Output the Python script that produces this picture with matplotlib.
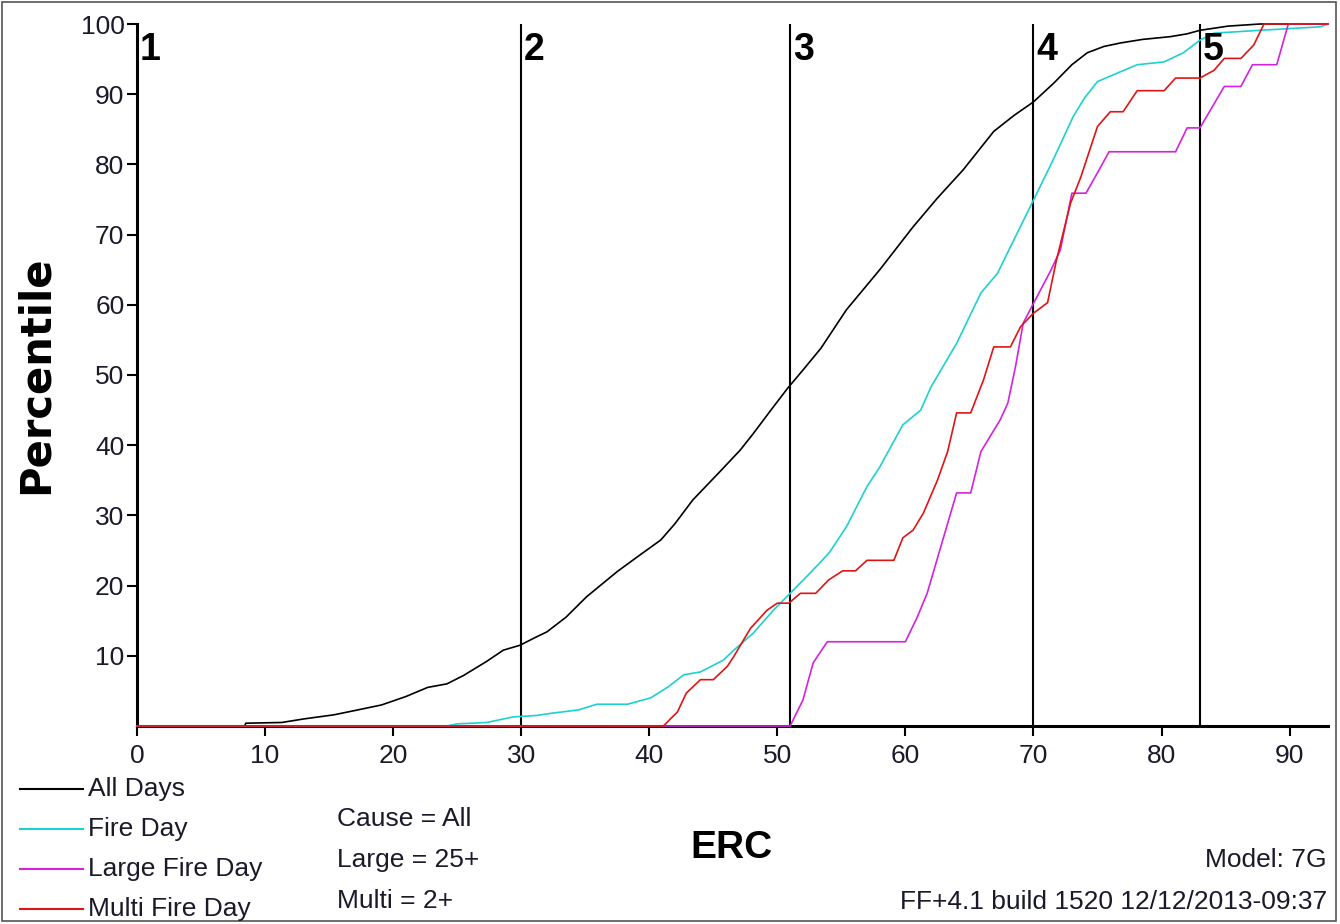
import matplotlib
matplotlib.use("Agg")
import matplotlib.pyplot as plt
from matplotlib.lines import Line2D
from matplotlib.patches import Rectangle

# ERC percentile curves
all_days_x = [0, 8.4, 8.5, 11.3, 13, 15.4, 17, 19.1, 21, 22.7, 24.2, 25.5, 27.3, 28.6, 29.9,
              31.2, 32.0, 33.5, 35.1, 37.5, 39, 40.9, 42, 43.4, 45.5, 47.1, 48.1, 49.5, 50.8,
              52, 53.4, 55.4, 58.0, 60.6, 62.5, 64.5, 66.9, 68.5, 70.0, 71.6, 73.0, 74.2,
              75.5, 76.8, 78.5, 80.7, 82, 83.0, 85.2, 87.7, 93]
all_days_y = [0, 0, 0.4, 0.5, 1.0, 1.6, 2.2, 3.0, 4.2, 5.5, 6.0, 7.2, 9.2, 10.8, 11.5,
              12.7, 13.4, 15.5, 18.4, 22.0, 24.0, 26.5, 28.8, 32.2, 36.2, 39.3, 41.6, 45.0, 48.1,
              50.7, 53.8, 59.3, 65.0, 71.1, 75.2, 79.2, 84.7, 87.0, 88.9, 91.6, 94.2, 95.9,
              96.8, 97.3, 97.8, 98.2, 98.6, 99.1, 99.7, 100, 100]

fire_x = [0, 24.2, 25, 27.3, 29.4, 31.2, 32.3, 34.5, 35.9, 38.3, 40.1, 41.5, 42.7, 44.0,
          45.8, 46.6, 48.1, 49.7, 51.0, 52.3, 53.4, 54.1, 55.4, 57.0, 58.0, 59.8, 61.2, 62.0,
          64, 65.9, 67.2, 68.0, 70.0, 71.5, 73.1, 74.0, 75.0, 76.8, 78.1, 80.2, 81.7, 83.0,
          84.1, 87.7, 92.4, 93]
fire_y = [0, 0, 0.3, 0.5, 1.3, 1.5, 1.8, 2.3, 3.1, 3.1, 4.0, 5.6, 7.3, 7.7,
          9.4, 10.8, 13.2, 16.5, 18.9, 21.3, 23.4, 24.8, 28.4, 34.1, 36.9, 42.9, 45.0, 48.3,
          54.5, 61.7, 64.5, 67.5, 74.9, 80.5, 86.8, 89.5, 91.8, 93.2, 94.2, 94.6, 95.9, 97.7,
          98.7, 99.1, 99.6, 100]

large_x = [0, 51.0, 52.0, 52.8, 53.9, 60.0, 60.9, 61.7, 63.0, 64.0, 65.1, 65.9, 66.6, 67.4,
           68.0, 68.6, 69.2, 70.0, 71.3, 72.1, 73.0, 74.1, 75.0, 75.9, 81.1, 82.0, 83.0,
           84.9, 86.2, 87.1, 89.0, 89.9, 93]
large_y = [0, 0, 3.7, 9.0, 12.0, 12.0, 15.4, 18.9, 27.0, 33.2, 33.2, 39.1, 41.2, 43.6,
           46.0, 51.2, 57.4, 60.2, 64.7, 67.8, 75.9, 75.9, 78.8, 81.8, 81.8, 85.2, 85.2,
           91.1, 91.1, 94.2, 94.2, 100, 100]

multi_x = [0, 41.1, 42.2, 42.9, 44.0, 45.0, 46.1, 46.6, 47.9, 49.2, 50.0, 50.9, 51.8, 53.0,
           54.0, 55.1, 56.1, 57.0, 59.1, 59.8, 60.6, 61.4, 62.5, 63.3, 64.0, 65.1, 66.1, 66.9,
           68.2, 69.0, 70.0, 71.1, 71.8, 72.9, 73.7, 75.0, 76.0, 77.0, 78.1, 80.2, 81.1, 83.0,
           84.1, 84.9, 86.2, 87.2, 88.0, 93]
multi_y = [0, 0, 2.0, 4.7, 6.6, 6.6, 8.5, 9.9, 13.9, 16.5, 17.5, 17.5, 18.9, 18.9,
           20.8, 22.1, 22.1, 23.6, 23.6, 26.8, 27.9, 30.3, 35.0, 39.1, 44.6, 44.6, 49.3, 54.0,
           54.0, 56.9, 58.8, 60.3, 66.4, 74.5, 78.2, 85.4, 87.5, 87.5, 90.5, 90.5, 92.3, 92.3,
           93.4, 95.1, 95.1, 97.0, 100, 100]

series_names = ["All Days", "Fire Day", "Large Fire Day", "Multi Fire Day"]
series_colors = ["#000000", "#1fd0d0", "#d323e0", "#e01414"]

# fire danger class breakpoints
class_breaks = [0, 30, 51, 70, 83]
class_labels = ["1", "2", "3", "4", "5"]

x_ticks = [0, 10, 20, 30, 40, 50, 60, 70, 80, 90]
y_ticks = [10, 20, 30, 40, 50, 60, 70, 80, 90, 100]

notes = ["Cause = All", "Large = 25+", "Multi = 2+"]

W, H = 1340, 924
NARROW = ["Liberation Sans Narrow", "Liberation Sans", "DejaVu Sans"]
plt.rcParams["font.family"] = ["Liberation Sans", "DejaVu Sans"]


def fx(px):
    return px / W


def fy(py):
    return 1 - py / H


fig = plt.figure(figsize=(W / 100, H / 100), dpi=100)
ax = fig.add_axes([fx(137), fy(726), (1328 - 137) / W, (726 - 24) / H])

# class boundary lines
for xb in class_breaks[1:]:
    ax.axvline(xb, color="black", lw=1.5, zorder=1.5)
for xb, lab in zip(class_breaks, class_labels):
    ax.text(xb + 0.2, 98.9, lab, ha="left", va="top", fontsize=27,
            fontweight="bold", color="black", zorder=5)

curves = [(all_days_x, all_days_y), (fire_x, fire_y),
          (large_x, large_y), (multi_x, multi_y)]
for (xs, ys), col in zip(curves, series_colors):
    ax.plot(xs, ys, color=col, lw=1.2, zorder=3, clip_on=False)

ax.set_xlim(0, 93)
ax.set_ylim(0, 100)
ax.set_xticks(x_ticks)
ax.set_yticks(y_ticks)
ax.spines["top"].set_visible(False)
ax.spines["right"].set_visible(False)
ax.spines["left"].set_linewidth(2.2)
ax.spines["bottom"].set_linewidth(2.2)
ax.tick_params(axis="both", direction="out", length=7, width=1.5, colors="black")
ax.tick_params(axis="y", pad=2)
ax.tick_params(axis="x", pad=6)
for lbl in ax.get_xticklabels() + ax.get_yticklabels():
    lbl.set_family(NARROW)
    lbl.set_fontsize(19)
    lbl.set_color("#1a1a2a")

# axis titles
fig.text(fx(36), fy(375), "Percentile", rotation=90, ha="center", va="center",
         fontsize=30, fontweight="bold", family=["DejaVu Sans"])
fig.text(fx(731), fy(848), "ERC", ha="center", va="center", fontsize=28,
         fontweight="bold")

# legend block
for i, (name, col) in enumerate(zip(series_names, series_colors)):
    yy = 789 + 40 * i
    fig.add_artist(Line2D([fx(20), fx(83)], [fy(yy), fy(yy)], color=col, lw=1.5))
    fig.text(fx(88), fy(yy), name, ha="left", va="center", fontsize=19,
             color="#1a1a2a")

for i, note in enumerate(notes):
    fig.text(fx(337), fy(819 + 41 * i), note, ha="left", va="center", fontsize=19,
             color="#1a1a2a")

fig.text(fx(1327), fy(860), "Model: 7G", ha="right", va="center", fontsize=19,
         color="#1a1a2a")
fig.text(fx(1327), fy(902), "FF+4.1 build 1520 12/12/2013-09:37", ha="right",
         va="center", fontsize=19, color="#1a1a2a")

fig.add_artist(Rectangle((fx(2), fy(921)), fx(1336) - fx(2), fy(2) - fy(921),
                         transform=fig.transFigure, fill=False,
                         edgecolor="#555555", lw=1.2))

fig.savefig("out.png", dpi=100, facecolor="white")
